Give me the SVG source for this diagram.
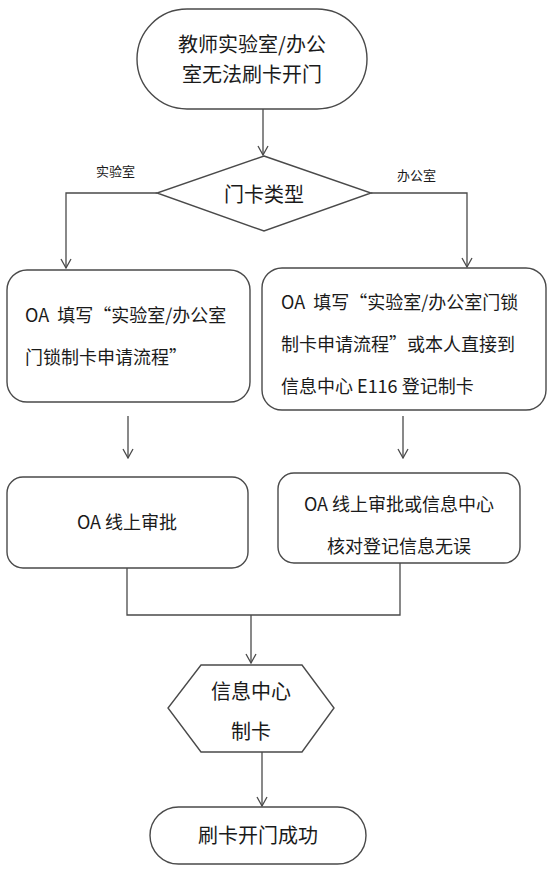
<svg xmlns="http://www.w3.org/2000/svg" width="551" height="874" viewBox="0 0 551 874">
<defs>
<marker id="arr" viewBox="0 0 12 12" refX="11" refY="6" markerWidth="12" markerHeight="12" markerUnits="userSpaceOnUse" orient="auto">
<path d="M2,1 L11,6 L2,11" fill="none" stroke="#4a4a4a" stroke-width="1.3"/>
</marker>
<style>
.s{fill:#fff;stroke:#4a4a4a;stroke-width:1.4}
.c{fill:none;stroke:#4a4a4a;stroke-width:1.3}
text{font-family:"Microsoft YaHei","Noto Sans CJK SC","Noto Sans",sans-serif;fill:#1a1a1a}
.t20{font-size:20px}
.t18{font-size:18px}
.t13{font-size:13px}
.m{text-anchor:middle}
</style>
</defs>
<rect width="551" height="874" fill="#fff"/>
<g id="connectors">
<path class="c" d="M263,109 L263,155" marker-end="url(#arr)"/>
<path class="c" d="M157,193 L66,193 L66,268" marker-end="url(#arr)"/>
<path class="c" d="M371,193 L467,193 L467,267" marker-end="url(#arr)"/>
<path class="c" d="M128,416 L128,458" marker-end="url(#arr)"/>
<path class="c" d="M403,416 L403,458" marker-end="url(#arr)"/>
<path class="c" d="M127,568 L127,615 L400,615 L400,563"/>
<path class="c" d="M251,615 L251,663" marker-end="url(#arr)"/>
<path class="c" d="M262,752 L262,806" marker-end="url(#arr)"/>
<text class="t13" x="96" y="176">实验室</text>
<text class="t13" x="397" y="180">办公室</text>
</g>
<g id="start">
<rect class="s" x="137" y="9" width="230" height="100" rx="50"/>
<text class="t20 m" x="252" y="52">教师实验室/办公</text>
<text class="t20 m" x="252" y="82">室无法刷卡开门</text>
</g>
<g id="decision">
<polygon class="s" points="264,156 371,193 264,231 157,193"/>
<text class="t20 m" x="264" y="202">门卡类型</text>
</g>
<g id="lab-apply">
<rect class="s" x="7" y="270" width="243" height="132" rx="20"/>
<text class="t18" x="25" y="322">OA&#160; 填写“实验室/办公室</text>
<text class="t18" x="25" y="364">门锁制卡申请流程”</text>
</g>
<g id="office-apply">
<rect class="s" x="262" y="268" width="284" height="142" rx="20"/>
<text class="t18" x="281" y="309">OA&#160; 填写“实验室/办公室门锁</text>
<text class="t18" x="281" y="351">制卡申请流程”或本人直接到</text>
<text class="t18" x="281" y="393">信息中心 E116 登记制卡</text>
</g>
<g id="lab-approve">
<rect class="s" x="7" y="477" width="241" height="91" rx="16"/>
<text class="t18 m" x="127" y="529">OA 线上审批</text>
</g>
<g id="office-approve">
<rect class="s" x="278" y="473" width="242" height="90" rx="16"/>
<text class="t18 m" x="399" y="511">OA 线上审批或信息中心</text>
<text class="t18 m" x="399" y="553">核对登记信息无误</text>
</g>
<g id="make-card">
<polygon class="s" points="201,665 302,665 334,708 302,752 201,752 168,708"/>
<text class="t20 m" x="251" y="699">信息中心</text>
<text class="t20 m" x="251" y="739">制卡</text>
</g>
<g id="end">
<rect class="s" x="150" y="807" width="216" height="57" rx="28.5"/>
<text class="t20 m" x="258" y="843">刷卡开门成功</text>
</g>
</svg>
